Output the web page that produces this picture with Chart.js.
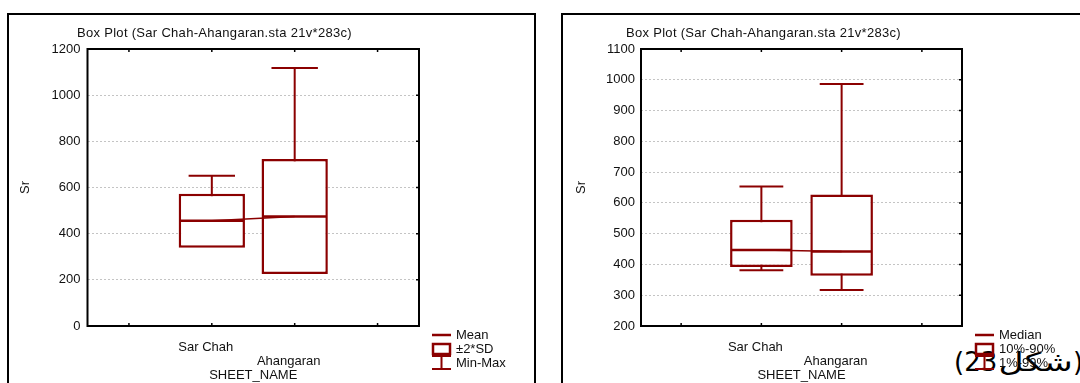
<!DOCTYPE html>
<html>
<head>
<meta charset="utf-8">
<title>Box Plot Sr</title>
<script src="https://cdn.jsdelivr.net/npm/chart.js@4.4.0/dist/chart.umd.min.js"></script>
<style>
  html, body { margin: 0; padding: 0; background: #fff; width: 1080px; height: 383px; overflow: hidden; }
  .panel { position: absolute; top: 0; width: 540px; height: 383px; }
  .frame { position: absolute; border: 2px solid #000; box-sizing: border-box; }
  #fig { position: absolute; left: 954px; top: 349px; font: 26px "DejaVu Sans", sans-serif; line-height: 26px; white-space: nowrap; color: #000; }
  #fig .word { display: inline-block; transform: scaleX(1.33); transform-origin: right center; margin-left: 20px; }
</style>
</head>
<body>
<div class="frame" style="left:7px;top:13px;width:529px;height:400px"></div>
<div class="frame" style="left:561px;top:13px;width:540px;height:400px"></div>
<div id="fig" dir="rtl">(<span class="word">شکل</span>23)</div>
<div class="panel" style="left:0"><canvas id="meanChart" width="540" height="383"></canvas></div>
<div class="panel" style="left:540px"><canvas id="medianChart" width="540" height="383"></canvas></div>
<script>
// Sheets and their slot on the x axis
const categories = ['Sar Chah', 'Ahangaran'];
const slots = [1, 2];
const slotTicks = [0, 1, 2, 3];

// Sr: mean, standard deviation and range per sheet
const srMean = [456, 474];
const srSD = [58.5, 124.5];
const srMin = [380, 318];
const srMax = [651, 1118];

// Sr: median, 10%-90% and 1%-99% per sheet
const srMedian = [447, 442];
const srP10 = [392, 363];
const srP90 = [545, 627];
const srP1 = [381, 317];
const srP99 = [653, 986];

const plotTitle = 'Box Plot (Sar Chah-Ahangaran.sta 21v*283c)';
const xTitle = 'SHEET_NAME';
const yTitle = 'Sr';
const meanLegend = ['Mean', '±2*SD', 'Min-Max'];
const medianLegend = ['Median', '10%-90%', '1%-99%'];

const RED = '#8b0000';
const INK = '#111';
const FONT = 'Arial, "Liberation Sans", sans-serif';

// Whiskers, centre lines, plot frame, inward ticks, title and legend
const boxExtras = {
  id: 'boxExtras',
  beforeDatasetsDraw(chart, args, o) {
    const ctx = chart.ctx, y = chart.scales.y;
    const bars = chart.getDatasetMeta(1).data;
    ctx.save();
    ctx.strokeStyle = RED;
    ctx.lineWidth = 2;
    bars.forEach((el, i) => {
      const half = el.width * 0.35;
      const yHi = y.getPixelForValue(o.wHi[i]);
      const yLo = y.getPixelForValue(o.wLo[i]);
      ctx.beginPath();
      ctx.moveTo(el.x, yLo); ctx.lineTo(el.x, yHi);
      ctx.moveTo(el.x - half, yHi); ctx.lineTo(el.x + half, yHi);
      ctx.moveTo(el.x - half, yLo); ctx.lineTo(el.x + half, yLo);
      ctx.stroke();
    });
    ctx.restore();
  },
  afterDatasetsDraw(chart, args, o) {
    const ctx = chart.ctx, ca = chart.chartArea;
    const xs = chart.scales.x, ys = chart.scales.y;
    const bars = chart.getDatasetMeta(1).data;
    ctx.save();
    // centre line across each box
    ctx.strokeStyle = RED;
    ctx.lineWidth = 2.5;
    bars.forEach((el, i) => {
      const yc = ys.getPixelForValue(o.mid[i]);
      ctx.beginPath();
      ctx.moveTo(el.x - el.width / 2 + 1, yc);
      ctx.lineTo(el.x + el.width / 2 - 1, yc);
      ctx.stroke();
    });
    // plot frame
    ctx.strokeStyle = '#000';
    ctx.lineWidth = 2;
    ctx.strokeRect(ca.left, ca.top, ca.right - ca.left, ca.bottom - ca.top);
    // inward ticks
    ctx.lineWidth = 1.5;
    ctx.beginPath();
    xs.ticks.forEach(t => {
      const px = xs.getPixelForValue(t.value);
      ctx.moveTo(px, ca.top); ctx.lineTo(px, ca.top + 3);
      ctx.moveTo(px, ca.bottom); ctx.lineTo(px, ca.bottom - 3);
    });
    ys.ticks.forEach(t => {
      const py = ys.getPixelForValue(t.value);
      ctx.moveTo(ca.right, py); ctx.lineTo(ca.right - 3, py);
    });
    ctx.stroke();
    // title
    ctx.fillStyle = INK;
    ctx.font = '13px ' + FONT;
    ctx.textBaseline = 'middle';
    ctx.textAlign = 'left';
    if ('letterSpacing' in ctx) ctx.letterSpacing = '0.3px';
    ctx.fillText(plotTitle, o.titleX, 33);
    if ('letterSpacing' in ctx) ctx.letterSpacing = '0px';
    // legend
    const x0 = ca.right + 13, x1 = ca.right + 32, tx = ca.right + 37;
    o.legend.forEach((label, k) => {
      const cy = ca.bottom + 9 + k * 14;
      ctx.strokeStyle = RED;
      ctx.beginPath();
      if (k === 0) {
        ctx.lineWidth = 2.5;
        ctx.moveTo(x0, cy); ctx.lineTo(x1, cy);
        ctx.stroke();
      } else if (k === 1) {
        ctx.lineWidth = 2.5;
        ctx.strokeRect(x0 + 1, cy - 5, x1 - x0 - 2, 10);
      } else {
        ctx.lineWidth = 2;
        const xm = (x0 + x1) / 2;
        ctx.moveTo(x0, cy - 7); ctx.lineTo(x1, cy - 7);
        ctx.moveTo(xm, cy - 7); ctx.lineTo(xm, cy + 6);
        ctx.moveTo(x0, cy + 6); ctx.lineTo(x1, cy + 6);
        ctx.stroke();
      }
      ctx.fillStyle = INK;
      ctx.fillText(label, tx, cy);
    });
    ctx.restore();
  }
};

function boxChart(id, o) {
  const boxes = o.lo.map((lo, i) => ({ x: slots[i], y: [lo, o.hi[i]] }));
  const centres = o.mid.map((v, i) => ({ x: slots[i], y: v }));
  const tickFont = { family: FONT, size: 13, lineHeight: 1.1 };
  return new Chart(document.getElementById(id), {
    type: 'bar',
    data: {
      datasets: [
        { type: 'line', data: centres, borderColor: RED, borderWidth: 1.5, pointRadius: 0, order: 0 },
        { type: 'bar', data: boxes, backgroundColor: '#fff', borderColor: RED, borderWidth: 2.5,
          borderSkipped: false, barPercentage: o.barPct, categoryPercentage: 1, order: 1 }
      ]
    },
    options: {
      responsive: false,
      animation: false,
      events: [],
      layout: { padding: { left: o.padL, right: o.padR, top: 49, bottom: 0 } },
      plugins: {
        legend: { display: false },
        tooltip: { enabled: false },
        boxExtras: { wLo: o.wLo, wHi: o.wHi, mid: o.mid, legend: o.legend, titleX: o.titleX }
      },
      scales: {
        x: {
          type: 'linear', min: -0.5, max: 3.5, offset: false,
          grid: { display: false }, border: { display: false },
          afterBuildTicks: s => { s.ticks = slotTicks.map(v => ({ value: v })); },
          afterFit: s => { s.height = 57; },
          ticks: {
            autoSkip: false, maxRotation: 0, minRotation: 0, padding: 6, labelOffset: -6,
            font: tickFont, color: INK,
            callback: v => {
              const i = slots.indexOf(v);
              if (i < 0) return '';
              return i % 2 ? ['', categories[i]] : categories[i];
            }
          },
          title: { display: true, text: xTitle, font: tickFont, color: INK, padding: { top: 0, bottom: 0 } }
        },
        y: {
          min: o.yMin, max: o.yMax,
          grid: { color: '#c4c4c4', lineWidth: 1, drawTicks: false },
          border: { display: false, dash: [2, 2] },
          afterFit: s => { s.width = o.yW; },
          ticks: { stepSize: o.yStep, padding: o.yPad, font: { family: FONT, size: 13 }, color: INK,
                   callback: v => String(v) },
          title: { display: true, text: yTitle, font: { family: FONT, size: 13 }, color: INK, padding: { top: o.yTitlePad, bottom: 0 } }
        }
      }
    },
    plugins: [boxExtras]
  });
}

boxChart('meanChart', {
  lo: srMean.map((m, i) => m - 2 * srSD[i]),
  hi: srMean.map((m, i) => m + 2 * srSD[i]),
  mid: srMean, wLo: srMin, wHi: srMax,
  legend: meanLegend,
  yMin: 0, yMax: 1200, yStep: 200,
  padL: 15, padR: 121, yW: 72.5, yPad: 7, yTitlePad: 3,
  barPct: 0.8, titleX: 77
});

boxChart('medianChart', {
  lo: srP10, hi: srP90,
  mid: srMedian, wLo: srP1, wHi: srP99,
  legend: medianLegend,
  yMin: 200, yMax: 1100, yStep: 100,
  padL: 30, padR: 118, yW: 71, yPad: 6, yTitlePad: 3.5,
  barPct: 0.78, titleX: 86
});
</script>
</body>
</html>
